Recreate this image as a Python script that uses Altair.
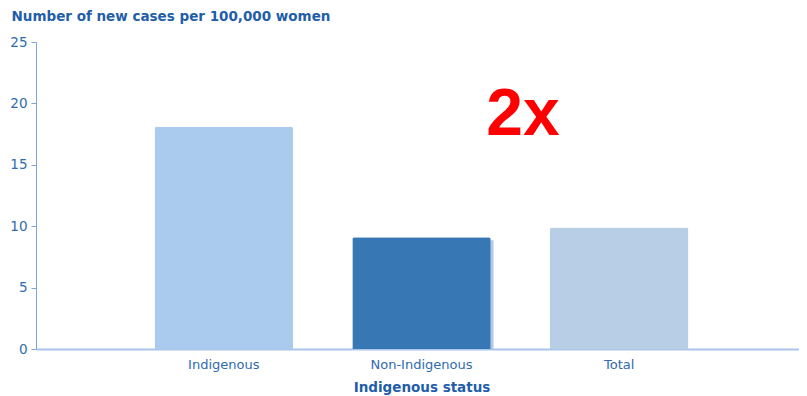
import altair as alt
import pandas as pd

categories = ["Indigenous", "Non-Indigenous", "Total"]
values = [18.1, 9.1, 9.9]
colors = ["#abcbee", "#3777b4", "#b8cee7"]
y_ticks = [0, 5, 10, 15, 20, 25]
annotation = "2x"

df = pd.DataFrame({"status": categories, "value": values})
ann = pd.DataFrame({"label": [annotation]})

FONT = "DejaVu Sans"
blue = "#2f6bb0"
x_scale = alt.Scale(domain=categories, range=[0, 771], paddingInner=0.3, paddingOuter=0.6)
y_scale = alt.Scale(domain=[0, 25], nice=False)

x_axis = alt.Axis(title="Indigenous status", labelAngle=0, ticks=False,
                  labelPadding=9, labelFontSize=13, labelColor=blue,
                  labelFont=FONT, titleFont=FONT,
                  titleFontSize=13.5, titleFontWeight="bold", titleColor="#1f5ea8",
                  titlePadding=9, domainColor="#a9c6ea", domainWidth=2)
y_axis = alt.Axis(values=y_ticks, title="Number of new cases per 100,000 women",
                  titleAngle=0, titleAlign="left", titleBaseline="alphabetic",
                  titleX=-25, titleY=-22, titleFont=FONT,
                  titleFontSize=13.5, titleFontWeight="bold", titleColor="#1f5ea8",
                  labelFont=FONT, labelFontSize=13.5, labelColor=blue,
                  labelPadding=4, tickSize=5, tickColor="#7aa5d8",
                  domainColor="#7aa5d8", grid=False)

x_enc = alt.X("status:N", scale=x_scale, sort=categories, axis=x_axis)
y_enc = alt.Y("value:Q", scale=y_scale, axis=y_axis)

shadow = alt.Chart(df).transform_filter(
    alt.datum.status == "Non-Indigenous"
).mark_bar(color="#9dbbe0", opacity=0.8, xOffset=3, yOffset=3,
           cornerRadiusTopLeft=2, cornerRadiusTopRight=2).encode(x=x_enc, y=y_enc)

bars = alt.Chart(df).mark_bar(cornerRadiusTopLeft=2, cornerRadiusTopRight=2).encode(
    x=x_enc,
    y=y_enc,
    color=alt.Color("status:N", scale=alt.Scale(domain=categories, range=colors), legend=None),
)

text = alt.Chart(ann).mark_text(font="Liberation Sans", fontWeight="bold", fontSize=66,
                                color="#ff0000", align="center", baseline="alphabetic").encode(
    text="label:N", x=alt.value(487), y=alt.value(93)
)

chart = alt.layer(shadow, bars, text).properties(
    width=763, height=307,
    autosize=alt.AutoSizeParams(type="none"),
    padding={"left": 28, "top": 34, "right": 0, "bottom": 46},
).configure_view(stroke=None)

chart.save("out.html", embed_options={"renderer": "svg", "actions": False})
